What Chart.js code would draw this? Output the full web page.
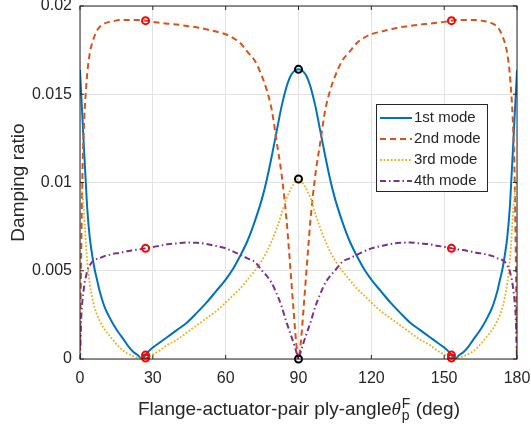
<!DOCTYPE html>
<html>
<head>
<meta charset="utf-8">
<script src="https://cdn.jsdelivr.net/npm/chart.js@4.4.0/dist/chart.umd.min.js"></script>
<style>
  html, body { margin: 0; padding: 0; background: #fff; }
</style>
</head>
<body>
<canvas id="chart" width="531" height="430"></canvas>
<script>
// ply angle (deg)
const angles = [0, 0.5, 1, 1.5, 2, 2.5, 3, 4, 5, 6, 7, 8, 10, 12, 14, 16, 18, 20, 22, 24, 25.5, 27, 28, 30, 33, 36, 40, 44, 48, 52, 56, 60, 63, 66, 69, 72, 75, 77, 79, 81, 83, 85, 86, 87, 88, 89, 90,
  91, 92, 93, 94, 95, 97, 99, 101, 103, 105, 108, 111, 114, 117, 120, 124, 128, 132, 136, 140, 144, 147, 150, 152, 153, 154.5, 156, 158, 160, 162, 164, 166, 168, 170, 172, 173, 174, 175, 176, 177, 177.5, 178, 178.5, 179, 179.5, 180];

const mode1 = [0.01637, 0.0150, 0.0137, 0.0123, 0.0110, 0.0097, 0.0085, 0.0069, 0.0059, 0.0051, 0.0045, 0.0039, 0.0030, 0.0024, 0.0019, 0.00147, 0.0011, 0.0007, 0.0004, 0.0002, 0.0, 0.00022, 0.0004, 0.00065, 0.00095, 0.00125, 0.00165, 0.00206, 0.0026, 0.00318, 0.00383, 0.0045, 0.0051, 0.00585, 0.0067, 0.0078, 0.0091, 0.0102, 0.0115, 0.0129, 0.0143, 0.0154, 0.0158, 0.0161, 0.01628, 0.01638, 0.01641,
  0.01638, 0.01628, 0.0161, 0.0158, 0.0154, 0.0143, 0.0129, 0.0115, 0.0102, 0.0091, 0.0078, 0.0067, 0.00585, 0.0051, 0.0045, 0.00383, 0.00318, 0.0026, 0.00206, 0.00165, 0.00125, 0.00095, 0.00065, 0.0004, 0.00022, 0.0, 0.0002, 0.0004, 0.0007, 0.0011, 0.00147, 0.0019, 0.0024, 0.0030, 0.0039, 0.0045, 0.0051, 0.0059, 0.0069, 0.0085, 0.0097, 0.0110, 0.0123, 0.0137, 0.0150, 0.01637];

const mode2 = [0.0, 0.0060, 0.0105, 0.0128, 0.0143, 0.0153, 0.0162, 0.0173, 0.0179, 0.0183, 0.0186, 0.0188, 0.0190, 0.0191, 0.01915, 0.0192, 0.0192, 0.0192, 0.0192, 0.0192, 0.0192, 0.01917, 0.01915, 0.0191, 0.01905, 0.0190, 0.01895, 0.01887, 0.0188, 0.01868, 0.01855, 0.0184, 0.0182, 0.0179, 0.0174, 0.0169, 0.0160, 0.0152, 0.0141, 0.0123, 0.0105, 0.0080, 0.0063, 0.0045, 0.0027, 0.0010, 0.0,
  0.0010, 0.0027, 0.0045, 0.0063, 0.0080, 0.0105, 0.0123, 0.0141, 0.0152, 0.0160, 0.0169, 0.0174, 0.0179, 0.0182, 0.0184, 0.01855, 0.01868, 0.0188, 0.01887, 0.01895, 0.0190, 0.01905, 0.0191, 0.01915, 0.01917, 0.0192, 0.0192, 0.0192, 0.0192, 0.0192, 0.0192, 0.01915, 0.0191, 0.0190, 0.0188, 0.0186, 0.0183, 0.0179, 0.0173, 0.0162, 0.0153, 0.0143, 0.0128, 0.0105, 0.0060, 0.0];

const mode3 = [0.0101, 0.0098, 0.0093, 0.0086, 0.0075, 0.0064, 0.0055, 0.0043, 0.0035, 0.0029, 0.0025, 0.0022, 0.0017, 0.00135, 0.0010, 0.0007, 0.00045, 0.00028, 0.00016, 0.00005, 0.0, 0.00005, 0.0001, 0.00025, 0.0005, 0.0008, 0.0011, 0.0015, 0.0019, 0.0023, 0.0027, 0.0032, 0.0036, 0.0040, 0.0045, 0.0050, 0.0056, 0.0061, 0.0067, 0.0074, 0.0082, 0.0091, 0.0094, 0.0097, 0.0099, 0.0101, 0.0102,
  0.0101, 0.0099, 0.0097, 0.0094, 0.0091, 0.0082, 0.0074, 0.0067, 0.0061, 0.0056, 0.0050, 0.0045, 0.0040, 0.0036, 0.0032, 0.0027, 0.0023, 0.0019, 0.0015, 0.0011, 0.0008, 0.0005, 0.00025, 0.0001, 0.00005, 0.0, 0.00005, 0.00016, 0.00028, 0.00045, 0.0007, 0.0010, 0.00135, 0.0017, 0.0022, 0.0025, 0.0029, 0.0035, 0.0043, 0.0055, 0.0064, 0.0075, 0.0086, 0.0093, 0.0098, 0.0101];

const mode4 = [0.0, 0.0023, 0.0033, 0.0039, 0.0044, 0.0047, 0.0050, 0.0053, 0.0055, 0.0056, 0.00567, 0.0057, 0.00583, 0.0059, 0.00597, 0.0060, 0.00607, 0.00612, 0.00617, 0.0062, 0.00624, 0.00627, 0.0063, 0.00635, 0.00642, 0.0065, 0.00655, 0.0066, 0.00658, 0.00652, 0.0064, 0.00627, 0.0061, 0.0059, 0.0057, 0.0055, 0.0050, 0.0047, 0.0043, 0.0037, 0.0030, 0.0021, 0.0017, 0.0013, 0.0009, 0.00045, 0.0,
  0.00045, 0.0009, 0.0013, 0.0017, 0.0021, 0.0030, 0.0037, 0.0043, 0.0047, 0.0050, 0.0055, 0.0057, 0.0059, 0.0061, 0.00627, 0.0064, 0.00652, 0.00658, 0.0066, 0.00655, 0.0065, 0.00642, 0.00635, 0.0063, 0.00627, 0.00624, 0.0062, 0.00617, 0.00612, 0.00607, 0.0060, 0.00597, 0.0059, 0.00583, 0.0057, 0.00567, 0.0056, 0.0055, 0.0053, 0.0050, 0.0047, 0.0044, 0.0039, 0.0033, 0.0023, 0.0];

// highlighted points
const redX = [27, 27, 27, 27, 153, 153, 153, 153];
const redY = [0.01917, 0.00627, 0.00022, 0.00005, 0.01917, 0.00627, 0.00022, 0.00005];
const blackX = [90, 90, 90];
const blackY = [0.01641, 0.0102, 0.0];

const modeNames = ['1st mode', '2nd mode', '3rd mode', '4th mode'];
const xTicks = [0, 30, 60, 90, 120, 150, 180];
const yTickLabels = ['0', '0.005', '0.01', '0.015', '0.02'];

const FONT = '"Liberation Sans", Arial, Helvetica, sans-serif';
const TXT = '#262626';

function pts(xs, ys) {
  return xs.map((x, i) => ({ x: x, y: ys[i] }));
}

const styles = [
  { color: '#0072BD', width: 2, dash: [] },
  { color: '#D95319', width: 2, dash: [6, 4] },
  { color: '#EDB120', width: 1.8, dash: [1.8, 1.8] },
  { color: '#7E2F8E', width: 2, dash: [6, 3, 1.5, 3] }
];
const series = [mode1, mode2, mode3, mode4];

const lineSets = series.map((ys, i) => ({
  label: modeNames[i],
  data: pts(angles, ys),
  borderColor: styles[i].color,
  borderWidth: styles[i].width,
  borderDash: styles[i].dash,
  pointRadius: 0,
  fill: false,
  cubicInterpolationMode: 'monotone',
  order: 4 - i
}));

function markerSet(xs, ys, color) {
  return {
    label: 'marker',
    data: pts(xs, ys),
    showLine: false,
    pointRadius: 3.5,
    pointBorderWidth: 2,
    pointBorderColor: color,
    pointBackgroundColor: 'rgba(255,255,255,0)',
    clip: false,
    order: 0
  };
}

// axes box, inside ticks, axis titles and legend
const decor = {
  id: 'decor',
  afterDraw(chart) {
    const ctx = chart.ctx;
    const a = chart.chartArea;
    const xs = chart.scales.x, ys = chart.scales.y;
    ctx.save();
    ctx.strokeStyle = '#262626';
    ctx.lineWidth = 1;
    ctx.setLineDash([]);
    ctx.strokeRect(a.left, a.top, a.right - a.left, a.bottom - a.top);
    ctx.beginPath();
    xTicks.forEach(v => {
      const px = xs.getPixelForValue(v);
      ctx.moveTo(px, a.bottom); ctx.lineTo(px, a.bottom - 4);
      ctx.moveTo(px, a.top); ctx.lineTo(px, a.top + 4);
    });
    yTickLabels.forEach((_, i) => {
      const py = ys.getPixelForValue(i * 0.005);
      ctx.moveTo(a.left, py); ctx.lineTo(a.left + 4, py);
      ctx.moveTo(a.right, py); ctx.lineTo(a.right - 4, py);
    });
    ctx.stroke();

    // y title
    ctx.fillStyle = TXT;
    ctx.font = '19px ' + FONT;
    ctx.textAlign = 'center';
    ctx.textBaseline = 'alphabetic';
    ctx.save();
    ctx.translate(24, (a.top + a.bottom) / 2);
    ctx.rotate(-Math.PI / 2);
    ctx.fillText('Damping ratio', 0, 0);
    ctx.restore();

    // x title with theta_p^F
    const part1 = 'Flange-actuator-pair ply-angle';
    const part2 = ' (deg)';
    ctx.textAlign = 'left';
    ctx.font = '19px ' + FONT;
    const w1 = ctx.measureText(part1).width;
    const w3 = ctx.measureText(part2).width;
    ctx.font = 'italic 19px "Liberation Serif", serif';
    const wt = ctx.measureText('\u03b8').width;
    ctx.font = '14px ' + FONT;
    const ws = Math.max(ctx.measureText('p').width, ctx.measureText('F').width);
    const total = w1 + wt + ws + w3;
    let x0 = (a.left + a.right) / 2 - total / 2;
    const base = 415;
    ctx.font = '19px ' + FONT;
    ctx.fillText(part1, x0, base);
    x0 += w1;
    ctx.font = 'italic 19px "Liberation Serif", serif';
    ctx.fillText('\u03b8', x0, base);
    x0 += wt + 1;
    ctx.font = '14px ' + FONT;
    ctx.fillText('F', x0, base - 7);
    ctx.fillText('p', x0, base + 5);
    x0 += ws;
    ctx.font = '19px ' + FONT;
    ctx.fillText(part2, x0, base);

    // legend
    const bx = 376, by = 104, bw = 111, bh = 87;
    ctx.fillStyle = '#fff';
    ctx.fillRect(bx, by, bw, bh);
    ctx.strokeStyle = '#262626';
    ctx.lineWidth = 1;
    ctx.strokeRect(bx + 0.5, by + 0.5, bw, bh);
    ctx.font = '15px ' + FONT;
    ctx.textBaseline = 'middle';
    modeNames.forEach((name, i) => {
      const ry = 118 + i * 21;
      ctx.strokeStyle = styles[i].color;
      ctx.lineWidth = styles[i].width;
      ctx.setLineDash(styles[i].dash);
      ctx.beginPath();
      ctx.moveTo(380, ry); ctx.lineTo(412, ry);
      ctx.stroke();
      ctx.setLineDash([]);
      ctx.fillStyle = TXT;
      ctx.fillText(name, 414, ry);
    });
    ctx.restore();
  }
};

new Chart(document.getElementById('chart').getContext('2d'), {
  type: 'line',
  data: {
    datasets: lineSets.concat([markerSet(redX, redY, '#FF0000'), markerSet(blackX, blackY, '#000000')])
  },
  options: {
    responsive: false,
    animation: false,
    layout: { padding: { top: 6, right: 14, left: 0, bottom: 0 } },
    plugins: { legend: { display: false }, tooltip: { enabled: false } },
    scales: {
      x: {
        type: 'linear', min: 0, max: 180,
        afterBuildTicks: s => { s.ticks = xTicks.map(v => ({ value: v })); },
        ticks: { padding: 10, maxRotation: 0, color: TXT, font: { family: FONT, size: 16 } },
        grid: { color: '#e3e3e3', drawTicks: false },
        border: { display: false },
        afterFit: s => { s.height = 71; s.paddingLeft = 0; s.paddingRight = 0; }
      },
      y: {
        min: 0, max: 0.02,
        afterBuildTicks: s => { s.ticks = yTickLabels.map((_, i) => ({ value: i * 0.005 })); },
        ticks: {
          padding: 8, color: TXT, font: { family: FONT, size: 16 },
          callback: (v, i) => yTickLabels[i]
        },
        grid: { color: '#e3e3e3', drawTicks: false },
        border: { display: false },
        afterFit: s => { s.width = 80; s.paddingTop = 0; s.paddingBottom = 0; }
      }
    }
  },
  plugins: [decor]
});
</script>
</body>
</html>
